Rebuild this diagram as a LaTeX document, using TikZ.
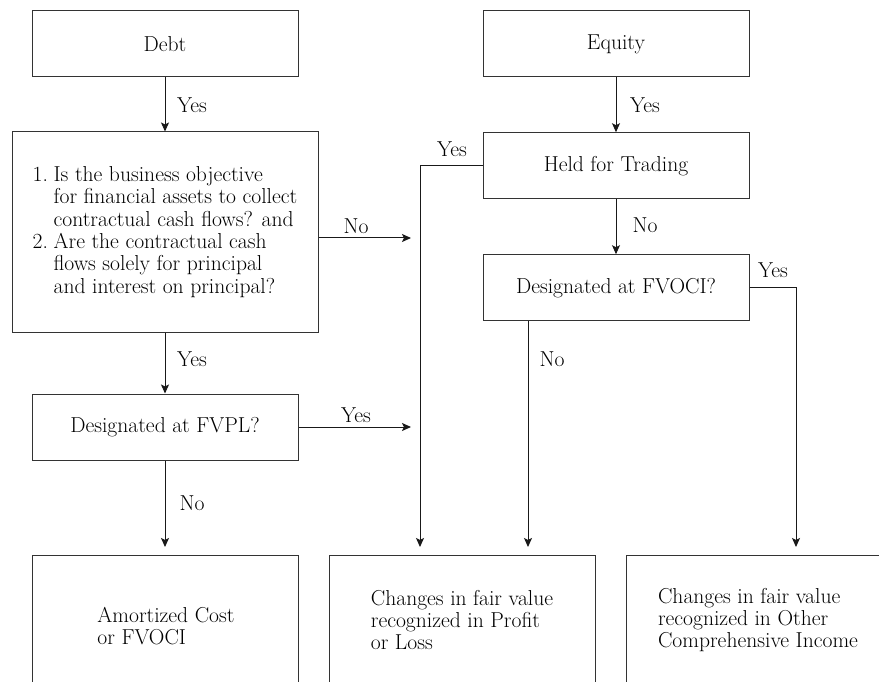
\documentclass[tikz,border=0pt]{standalone}
\usetikzlibrary{arrows.meta}
\begin{document}
\begin{tikzpicture}[x=1pt,y=-1pt,
  every node/.style={font=\fontsize{21.6}{22.4}\selectfont, text=black},
  box/.style={draw=black!80, line width=1pt, rectangle, inner sep=3pt, minimum width=266pt, minimum height=66pt},
  arr/.style={draw=black!90, line width=1pt, -{Stealth[length=9pt,width=8pt,inset=2pt]}},
  lbl/.style={inner sep=0pt}]
\useasboundingbox (0,0) rectangle (879,682);
\clip (0,0) rectangle (879,682);
\fill[white] (0,0) rectangle (879,682);

% top boxes
\node[box] (debt) at (165,44) {Debt};
\node[box] (equity) at (616,44) {Equity};
\node[box, minimum width=306pt, minimum height=200pt, align=left] (q) at (165,232)
 {\makebox[21pt][l]{1.}Is the business objective\\
  \hspace*{21pt}for financial assets to collect\\
  \hspace*{21pt}contractual cash flows? and\\
  \makebox[21pt][l]{2.}Are the contractual cash\\
  \hspace*{21pt}flows solely for principal\\
  \hspace*{21pt}and interest on principal?};
\node[box] (hft) at (616,165.7) {Held for Trading};
\node[box] (fvoci) at (616,287.7) {Designated at FVOCI?};
\node[box] (fvpl) at (165,427) {Designated at FVPL?};

% bottom (cut) boxes
\node[box, minimum height=170pt, anchor=north] (amort) at (165,555) {};
\node[box, minimum height=170pt, anchor=north] (profit) at (462,555) {};
\node[box, minimum height=170pt, anchor=north] (oci) at (759,555) {};
\node[align=left] (amortT) at (166,626) {Amortized Cost\\or FVOCI};
\node[align=left] (profitT) at (462,620) {Changes in fair value\\recognized in Profit\\or Loss};
\node[align=left] (ociT) at (758,620) {Changes in fair value\\recognized in Other\\Comprehensive Income};

% connector end points
\coordinate (qno) at (411,238);
\coordinate (fvplyes) at (411,427);
\coordinate (pend) at (420,547);
\coordinate (nend) at (528,547);
\coordinate (oend) at (796,547);
\coordinate (aend) at (165,547);

% connectors
\draw[arr] (debt) -- (q);
\draw[arr] (equity) -- (hft);
\draw[arr] (hft) -- (fvoci);
\draw[arr] (q.east |- qno) -- (qno);
\draw[arr] (q) -- (fvpl);
\draw[arr] (fvpl.east) -- (fvplyes);
\draw[arr] (fvpl) -- (aend);
\draw[arr] (hft.west) -| (pend);
\draw[arr] (fvoci.south -| nend) -- (nend);
\draw[arr] (fvoci.east) -| (oend);

% labels
\node[lbl] (l1) at (192,105) {Yes};
\node[lbl] (l2) at (645,105) {Yes};
\node[lbl] (l3) at (452,149) {Yes};
\node[lbl] (l4) at (356,226) {No};
\node[lbl] (l5) at (645,225) {No};
\node[lbl] (l6) at (773,270) {Yes};
\node[lbl] (l7) at (192,359) {Yes};
\node[lbl] (l8) at (552,359) {No};
\node[lbl] (l9) at (356,415) {Yes};
\node[lbl] (l10) at (192,503) {No};
\end{tikzpicture}
\end{document}
